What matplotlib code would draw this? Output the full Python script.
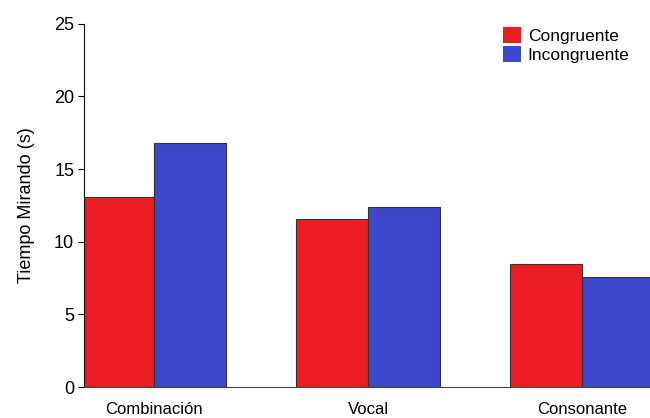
import numpy as np
import matplotlib.pyplot as plt
from matplotlib.patches import Patch

plt.rcParams['font.family'] = ['Liberation Sans', 'DejaVu Sans']

categories = ["Combinación", "Vocal", "Consonante"]
congruente = [13.1, 11.6, 8.5]
incongruente = [16.8, 12.4, 7.6]
series_names = ["Congruente", "Incongruente"]

red = "#EC1C24"
blue = "#3D47CA"

fig = plt.figure(figsize=(6.5, 4.18), dpi=100)
ax = fig.add_axes([0.129, 0.074, 0.871, 0.869])

x = np.arange(len(categories))
w = 0.336
ax.bar(x - w / 2, congruente, w, color=red, edgecolor="#333333", linewidth=0.8)
ax.bar(x + w / 2, incongruente, w, color=blue, edgecolor="#333333", linewidth=0.8)

ax.set_xlim(-0.328, 2.318)
ax.set_ylim(0, 25)
ax.set_yticks([0, 5, 10, 15, 20, 25])
ax.set_xticks(x)
ax.set_xticklabels(categories, fontsize=12)
ax.tick_params(axis="x", length=0, pad=11)
ax.tick_params(axis="y", length=4, labelsize=13, direction="out", pad=3)
ax.set_ylabel("Tiempo Mirando (s)", fontsize=13, labelpad=14)

for side in ("top", "right"):
    ax.spines[side].set_visible(False)
ax.spines["left"].set_color("#111111")
ax.spines["bottom"].set_color("#444444")

handles = [Patch(facecolor=red, edgecolor="none"), Patch(facecolor=blue, edgecolor="none")]
ax.legend(handles, series_names, loc="upper right", bbox_to_anchor=(0.976, 1.01),
          borderaxespad=0, frameon=False, fontsize=12.5, handlelength=1.05,
          handleheight=1.05, handletextpad=0.4, labelspacing=0.1)

fig.savefig("out.png", dpi=100)
